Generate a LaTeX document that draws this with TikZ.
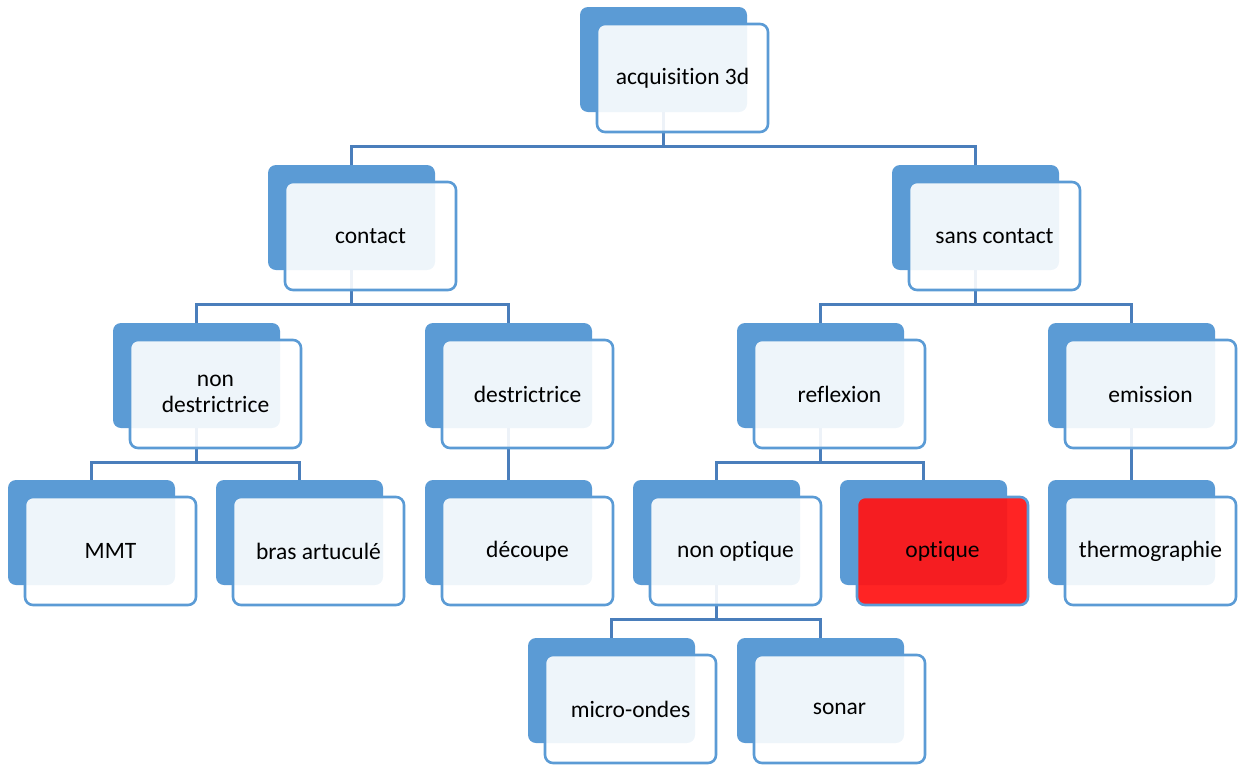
\documentclass[tikz,border=0pt]{standalone}
\usepackage{fontspec}
\setmainfont{Carlito}[Ligatures=NoCommon]
\pgfdeclarelayer{bg}
\pgfsetlayers{bg,main}
\definecolor{boxblue}{HTML}{5B9BD5}
\definecolor{linkblue}{HTML}{4A7EBB}
\definecolor{hot}{HTML}{FF1616}
\tikzset{
  backbox/.style={draw=none, fill=boxblue, rounded corners=8pt,
    minimum width=167pt, minimum height=105pt, inner sep=0pt},
  frontbox/.style={draw=boxblue, line width=2.6pt, fill=white, fill opacity=0.9,
    text opacity=1, rounded corners=8pt, minimum width=171pt, minimum height=108pt,
    inner sep=0pt, align=center, font=\fontsize{23.5}{26}\selectfont},
  hotbox/.style={fill=hot, fill opacity=0.94},
  link/.style={draw=linkblue, line width=2.6pt},
}
% one org-chart entry: blue back card plus offset front card with the label
\newcommand\orgitem[5][]{%
  \node[backbox] (#2B) at (#3,#4) {};
  \node[frontbox,#1] (#2) at (#3+19,#4+18.5) {#5};
}
\begin{document}
\begin{tikzpicture}[x=1pt,y=-1pt]
\useasboundingbox (0,0) rectangle (1239,764);
\orgitem{acq}{663.5}{59.5}{acquisition 3d}
\orgitem{con}{351.5}{217.5}{contact}
\orgitem{scon}{975.5}{217.5}{sans contact}
\orgitem{nd}{196.5}{375.5}{non\\destrictrice}
\orgitem{des}{508.5}{375.5}{destrictrice}
\orgitem{ref}{820.5}{375.5}{reflexion}
\orgitem{emi}{1131.5}{375.5}{emission}
\orgitem{mmt}{91.5}{532.5}{MMT}
\orgitem{bras}{299.5}{532.5}{bras artuculé}
\orgitem{dec}{508.5}{532.5}{découpe}
\orgitem{nopt}{716.5}{532.5}{non optique}
\orgitem[hotbox]{opt}{923.5}{532.5}{optique}
\orgitem{therm}{1131.5}{532.5}{thermographie}
\orgitem{micro}{611.5}{690.5}{micro-ondes}
\orgitem{sonar}{820.5}{690.5}{sonar}
\begin{pgfonlayer}{bg}
  \foreach \p/\c in {acq/con, acq/scon, con/nd, con/des, scon/ref, scon/emi,
                     nd/mmt, nd/bras, des/dec, ref/nopt, ref/opt, emi/therm,
                     nopt/micro, nopt/sonar}
    \draw[link] (\p B.south) -- ++(0,34) -| (\c B.north);
\end{pgfonlayer}
\end{tikzpicture}
\end{document}
